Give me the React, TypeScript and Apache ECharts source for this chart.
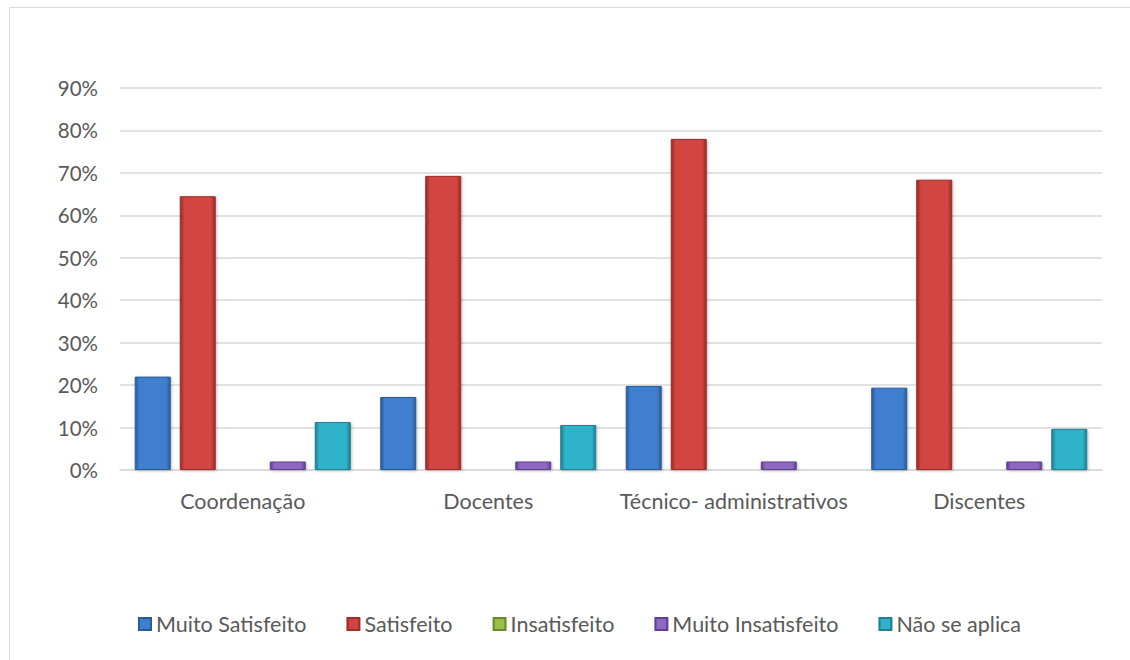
import React, { useEffect, useRef } from "react";
import * as echarts from "echarts";

const categories = ["Coordenação", "Docentes", "Técnico- administrativos", "Discentes"];
const seriesNames = ["Muito Satisfeito", "Satisfeito", "Insatisfeito", "Muito Insatisfeito", "Não se aplica"];
const muitoSatisfeito = [0.22, 0.172, 0.198, 0.194];
const satisfeito = [0.645, 0.693, 0.78, 0.684];
const insatisfeito = [0, 0, 0, 0];
const muitoInsatisfeito = [0.02, 0.02, 0.02, 0.02];
const naoSeAplica = [0.113, 0.106, 0, 0.097];
const yTicks = [0, 0.1, 0.2, 0.3, 0.4, 0.5, 0.6, 0.7, 0.8, 0.9];

const palette = [
  { mid: "#3f7fcf", edge: "#2a5a9a", border: "#2b5b94" },
  { mid: "#d2443f", edge: "#962b28", border: "#9a2f2c" },
  { mid: "#9bc046", edge: "#6a8a2c", border: "#6b8a2f" },
  { mid: "#8e66c4", edge: "#5f4188", border: "#5e438a" },
  { mid: "#2fb3cb", edge: "#1d7c8f", border: "#217f92" },
];

function grad(p: { mid: string; edge: string }) {
  return new echarts.graphic.LinearGradient(0, 0, 1, 0, [
    { offset: 0, color: p.edge },
    { offset: 0.12, color: p.mid },
    { offset: 0.88, color: p.mid },
    { offset: 1, color: p.edge },
  ]);
}

export default function App() {
  const ref = useRef<HTMLDivElement>(null);
  useEffect(() => {
    if (!ref.current) return;
    const chart = echarts.init(ref.current, undefined, { renderer: "svg" });
    const data = [muitoSatisfeito, satisfeito, insatisfeito, muitoInsatisfeito, naoSeAplica];
    chart.setOption({
      animation: false,
      textStyle: { fontFamily: "Lato, 'Open Sans', sans-serif" },
      graphic: [
        {
          type: "rect",
          shape: { x: 9.5, y: 7.5, width: 1130, height: 660 },
          style: { fill: "none", stroke: "#d9d9d9", lineWidth: 1 },
          silent: true,
        },
      ],
      grid: { left: 120, right: 28, top: 88, bottom: 190, containLabel: false },
      legend: {
        bottom: 20,
        left: 133,
        icon: "rect",
        itemWidth: 12,
        itemHeight: 12,
        itemGap: 40,
        textStyle: { color: "#595959", fontSize: 21.5 },
        data: seriesNames,
      },
      xAxis: {
        type: "category",
        data: categories,
        axisLine: { lineStyle: { color: "#d9d9d9", width: 1.5 } },
        axisTick: { show: false },
        axisLabel: { color: "#595959", fontSize: 21.5, margin: 20, interval: 0 },
      },
      yAxis: {
        type: "value",
        min: 0,
        max: yTicks[yTicks.length - 1],
        interval: 0.1,
        axisLine: { show: false },
        axisTick: { show: false },
        splitLine: { lineStyle: { color: "#d9d9d9", width: 1.5 } },
        axisLabel: {
          color: "#595959",
          fontSize: 20.5,
          margin: 22,
          formatter: (v: number) => Math.round(v * 100) + "%",
        },
      },
      series: seriesNames.map((name, i) => ({
        name,
        type: "bar",
        data: data[i],
        barGap: "25%",
        barCategoryGap: "12%",
        itemStyle: {
          color: grad(palette[i]),
          borderColor: palette[i].border,
          borderWidth: 1,
          shadowColor: "rgba(0,0,0,0.25)",
          shadowBlur: 3,
          shadowOffsetX: 1,
          shadowOffsetY: 1,
        },
      })),
    });
    return () => chart.dispose();
  }, []);
  return (
    <div
      ref={ref}
      style={{ position: "absolute", left: 0, top: 0, width: 1130, height: 660 }}
    />
  );
}
